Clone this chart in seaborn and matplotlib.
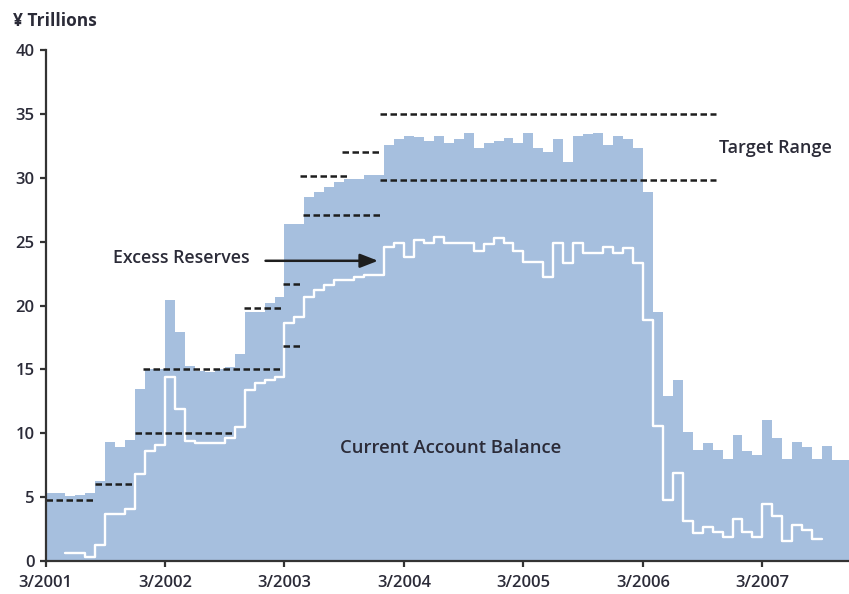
import numpy as np
import pandas as pd
import matplotlib
matplotlib.use("Agg")
import matplotlib.pyplot as plt
import seaborn as sns

# ---------------- data (monthly, starting 3/2001) ----------------
current_account = [5.3, 5.3, 5.1, 5.2, 5.3, 6.3, 9.3, 8.9, 9.5, 13.5,
                   15.0, 15.0, 20.4, 17.9, 15.3, 14.9, 14.8, 15.0, 15.2, 16.2,
                   19.5, 19.5, 20.2, 20.7, 26.4, 26.4, 28.5, 28.9, 29.3, 29.7,
                   29.9, 29.9, 30.2, 30.2, 32.6, 33.0, 33.3, 33.2, 32.9, 33.3,
                   32.7, 33.0, 33.5, 32.3, 32.7, 32.9, 33.1, 32.7, 33.5, 32.3,
                   32.0, 33.0, 31.2, 33.3, 33.4, 33.5, 32.6, 33.3, 33.0, 32.3,
                   28.9, 19.5, 12.9, 14.2, 10.1, 8.7, 9.2, 8.7, 8.0, 9.9,
                   8.6, 8.3, 11.0, 9.6, 8.0, 9.3, 8.9, 8.0, 9.0, 7.9, 7.9]

excess_start = 2  # excess reserves series begins 5/2001
excess_reserves = [0.6, 0.6, 0.3, 1.25, 3.7, 3.7, 4.1, 6.8, 8.6, 9.1,
                   14.4, 11.9, 9.4, 9.2, 9.2, 9.2, 9.6, 10.5, 13.4, 13.9,
                   14.2, 14.4, 18.6, 19.1, 20.7, 21.2, 21.6, 22.0, 22.0, 22.2,
                   22.4, 22.4, 24.6, 24.9, 23.8, 25.1, 24.9, 25.4, 24.9, 24.9,
                   24.9, 24.3, 24.8, 25.3, 24.9, 24.3, 23.4, 23.4, 22.2, 24.9,
                   23.3, 24.9, 24.1, 24.1, 24.6, 24.1, 24.5, 23.3, 18.9, 10.6,
                   4.8, 6.9, 3.1, 2.2, 2.7, 2.3, 1.9, 3.3, 2.3, 1.9,
                   4.5, 3.5, 1.6, 2.8, 2.4, 1.7]

# target range bounds: level, start month index, end month index
target_level = [4.8, 6.0, 10.0, 15.0, 19.8, 16.8, 21.7, 27.1, 30.1, 32.0, 35.0, 29.8]
target_start = [0.0, 5.0, 9.0, 9.8, 19.9, 23.9, 23.9, 25.9, 25.6, 29.8, 33.6, 33.6]
target_end   = [5.0, 9.0, 18.9, 23.9, 23.8, 25.8, 25.8, 33.6, 30.3, 33.6, 67.3, 67.3]

tick_labels = ["3/2001", "3/2002", "3/2003", "3/2004", "3/2005", "3/2006", "3/2007"]
tick_months = [0, 12, 24, 36, 48, 60, 72]

# ---------------- build frames ----------------
cab = pd.DataFrame({"month": np.arange(len(current_account)),
                    "value": current_account})
cab_ext = pd.concat([cab, pd.DataFrame({"month": [len(current_account)],
                                        "value": [current_account[-1]]})],
                    ignore_index=True)
er_idx = np.arange(excess_start, excess_start + len(excess_reserves))
er = pd.DataFrame({"month": er_idx, "value": excess_reserves})
er_ext = pd.concat([er, pd.DataFrame({"month": [er_idx[-1] + 1],
                                      "value": [excess_reserves[-1]]})],
                   ignore_index=True)

# ---------------- style ----------------
sns.set_theme(style="ticks")
plt.rcParams["font.family"] = ["Open Sans", "DejaVu Sans"]
text_color = "#2b2b38"
axis_color = "#333333"
fill_color = "#a6bfde"

fig = plt.figure(figsize=(8.49, 5.94), dpi=100)
ax = fig.add_axes([45.5 / 849, 1 - 561 / 594, 1 - 45.5 / 849, 511 / 594])

ax.fill_between(cab_ext["month"], cab_ext["value"], step="post",
                color=fill_color, lw=0, zorder=1)

sns.lineplot(data=er_ext, x="month", y="value", ax=ax, color="white",
             lw=1.7, drawstyle="steps-post", zorder=3, estimator=None)

for lvl, s, e in zip(target_level, target_start, target_end):
    ax.plot([s, e], [lvl, lvl], color="#1e1e1e", lw=1.8,
            dashes=(2.6, 1.4), zorder=4, solid_capstyle="butt",
            dash_capstyle="butt")

ax.set_xlim(0, 80.7)
ax.set_ylim(0, 40)
ax.set_xticks(tick_months)
ax.set_xticklabels(tick_labels)
ax.set_yticks(np.arange(0, 41, 5))
ax.set_xlabel("")
ax.set_ylabel("")

for sp in ["top", "right"]:
    ax.spines[sp].set_visible(False)
for sp in ["left", "bottom"]:
    ax.spines[sp].set_color(axis_color)
    ax.spines[sp].set_linewidth(1.6)
    ax.spines[sp].set_zorder(5)

ax.tick_params(axis="both", direction="out", length=4, width=1.6,
               color=axis_color, labelcolor=text_color, labelsize=12)
ax.tick_params(axis="y", pad=4)
ax.tick_params(axis="x", pad=6)
for lab in ax.get_xticklabels() + ax.get_yticklabels():
    lab.set_fontweight("semibold")

# annotations
ax.text(13.6, 23.7, "Excess Reserves", ha="center", va="center",
        fontsize=12.8, fontweight="semibold", color=text_color)
ax.annotate("", xy=(33.4, 23.5), xytext=(22.1, 23.5),
            arrowprops=dict(arrowstyle="-|>,head_length=0.9,head_width=0.35",
                            color="#1e1e1e", lw=1.8, shrinkA=0, shrinkB=0))
ax.text(73.3, 32.3, "Target Range", ha="center", va="center",
        fontsize=13, fontweight="semibold", color=text_color)
ax.text(40.7, 8.85, "Current Account Balance", ha="center", va="center",
        fontsize=13.3, fontweight="semibold", color=text_color, zorder=6)

fig.text(13 / 849, 1 - 21 / 594, "¥ Trillions", ha="left", va="center",
         fontsize=12.5, fontweight="bold", color=text_color)

fig.savefig("out.png", dpi=100)
